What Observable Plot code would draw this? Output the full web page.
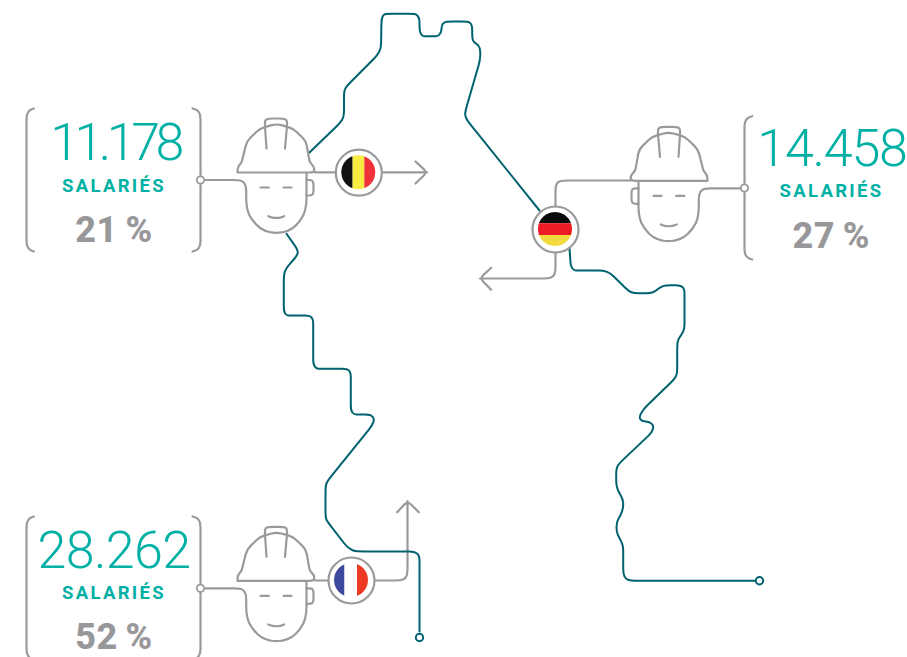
<!DOCTYPE html>
<html><head><meta charset="utf-8">
<style>
html,body{margin:0;padding:0;background:#fff;overflow:hidden}
svg{display:block}
.num1{letter-spacing:-4.5px}
.num2{letter-spacing:-1.2px}
.num3{letter-spacing:-0.6px}
.lab{letter-spacing:2.3px}
.pct{letter-spacing:0.6px;word-spacing:-2px}
</style>
<script src="https://cdn.jsdelivr.net/npm/d3@7"></script>
<script src="https://cdn.jsdelivr.net/npm/@observablehq/plot@0.6"></script>
</head><body><div id="chart"></div>
<script>
const teal="#00626f", gray="#9a9a9d", green="#00b0a5", txtGray="#98989b";

// river paths
const riverNorth=[[309,152],[340,122],[343.5,116],[343.5,90],[346.7,85],[376.7,55],[380.5,48],[381,18],[383.5,13.5],[387,13.3],[412,13.3],[416,13.8],[419,18],[419,31],[421.7,35.5],[425,35.8],[434,35.8],[438,35.5],[441,31],[441,25],[444,21.3],[448,21],[465,21],[469,21.5],[471.7,25],[471.7,38],[473.3,41.7],[478,44.5],[480,50],[479.5,60],[465,110],[464.5,115],[466.7,120],[474,129],[539,210]];
const riverEast=[[569,248],[570,262],[570.5,266],[573.5,270],[577,270],[603,270],[610,272.7],[628.3,290.7],[633.5,292.7],[650,292.7],[655,290.7],[660,286.5],[665,284.7],[680,284.7],[684,288.3],[684,328],[681.7,333.3],[677.5,339],[676.7,345],[676.7,373],[674.3,378.3],[643.3,408.3],[638.3,416.7],[641.7,421],[648.3,421],[653.3,425],[651.7,431.7],[618.3,463.3],[615.7,468.3],[615.7,485],[618.3,491.7],[622.3,498.3],[623,506.7],[620,515],[616,521.7],[616,531.7],[619.3,538.3],[622.7,545],[622.7,573],[625,578.3],[630,580.3],[756,580.3]];
const riverSouth=[[286,233.3],[297.7,250],[296.7,255],[285,268.3],[283.3,275],[283.3,311],[286,315],[290,315],[309,315],[312.7,318.5],[312.7,364],[316,368.3],[320,368.3],[346.7,368.3],[350.3,372],[350.3,410],[353.5,414],[358,414],[370,414],[374,418.3],[371.7,425],[327.3,480],[325,485],[325,516.7],[326.7,521],[346.7,546.7],[353.3,550.7],[360,551],[414,551],[419,555],[419,631]];
const riverEnds=[[759,580.3],[419,637]];

// worker drawing, in the Belgian worker's position
const helmetDome=[[237,172],[237.4,166],[241,162.5],[242,158],[246.5,140.5],[259.5,128],[276,123.3],[292.5,128],[305.5,140.5],[308.5,158],[309.5,162.5],[313.6,166],[314,172],[237,172]];
const helmetCrest=[[266,148],[264.3,123],[264.8,119.5],[268,118],[283,118],[286.2,119.5],[286.7,123],[284.5,148]];
const faceOutline=[[200,179.5],[238,179.5],[243,181],[245.7,186],[245.7,203],[248,214],[256,225],[265,231],[276,232.7],[287,231],[296,225],[303.7,214],[306,203],[306,172]];
const ear=[[306,179.5],[311,179.5],[313,181.5],[313,193],[311,195],[306,195]];
const eyeLeft=[[260,187],[268.3,187]];
const eyeRight=[[283,187],[291,187]];
const smile=[[267.7,215.7],[272,217.2],[276,217.5],[280,217.2],[283.7,215.7]];
const workerParts=[helmetDome,helmetCrest,faceOutline,ear,eyeLeft,eyeRight,smile];

// brackets
const bracketsLeft=[[33.3,108],[29,109.5],[26,114],[26,245],[29,249.5],[33.3,251]];
const bracketsRight=[[192,108],[197,109.5],[200,114],[200,245],[197,249.5],[192,251]];
const bracketGermany=[[751.7,115.7],[747,117.2],[744,122],[744,253],[747,257.5],[751.7,259]];
const bracketFr1=[[33.3,516],[29,517.5],[26,522],[26,653],[29,657.5],[33.3,659]];
const bracketFr2=[[192,516],[197,517.5],[200,522],[200,653],[197,657.5],[192,659]];

// connectors
const connectors=[
 [[314,171.8],[336,171.8]],
 [[381,171.8],[426.7,171.8]],
 [[415,161],[426.7,171.8],[415,183]],
 [[630.7,180],[562,180],[557,181.5],[555,186],[555,206]],
 [[555,252],[555,271],[553,276],[548,278],[479.5,278]],
 [[490.7,267.3],[479.3,277.7],[490.7,289.3]],
 [[314,580],[328,580]],
 [[374,580],[400,580],[405,578],[407,573],[407,500.5]],
 [[396.7,511.7],[407,500.5],[418.3,511.7]]
];
const connectorDots=[[200,179.5],[744,187.5],[200,587.8]];

// flags
const flagRings=[[358.3,172.2],[555,229],[351,580]];
const flagRadius=17;
const belgium=[["#111111",-17,-5.7],["#f8ec43",-5.7,6],["#ef3338",6,17]];
const germany=[["#0a0a0a",-17,-5.7],["#ed1c24",-5.7,6],["#f2d93c",6,17]];
const france=[["#3d4a9e",-17,-6.5],["#ffffff",-6.5,6],["#ee3a24",6,17]];

// texts
const values=["11.178","14.458","28.262"];
const shares=["21 %","27 %","52 %"];
const labelWord="SALARIÉS";
const valueX=[114.5,831.5,113.5], valueY=[159,165,567.3];
const labelX=[113.5,831,113.5], labelY=[191.7,196.7,598.3];
const shareX=[113.5,830.7,113.5], shareY=[241.7,247.7,648];

const toRows=(paths)=>paths.flatMap((p,i)=>p.map(([x,y])=>({x,y,id:i})));
const mirrorWorker=p=>p.map(([x,y])=>[944-x,y+8.3]);
const shiftWorker=p=>p.map(([x,y])=>[x,y+408.3]);
const grayRounded=[...workerParts,...workerParts.map(mirrorWorker),...workerParts.map(shiftWorker),
  bracketsLeft,bracketsRight,bracketGermany,bracketFr1,bracketFr2];

// a d3 curve: straight runs joined by small rounded corners
function roundedCorners(context){
  const R=5;let pts;
  return {
    areaStart(){},areaEnd(){},
    lineStart(){pts=[];},
    point(x,y){pts.push([+x,+y]);},
    lineEnd(){
      if(!pts.length)return;
      context.moveTo(pts[0][0],pts[0][1]);
      for(let i=1;i<pts.length-1;i++){
        const [ax,ay]=pts[i-1],[bx,by]=pts[i],[cx,cy]=pts[i+1];
        const l1=Math.hypot(bx-ax,by-ay)||1,l2=Math.hypot(cx-bx,cy-by)||1;
        const c1=Math.min(R,l1/2),c2=Math.min(R,l2/2);
        context.lineTo(bx-(bx-ax)*c1/l1,by-(by-ay)*c1/l1);
        context.quadraticCurveTo(bx,by,bx+(cx-bx)*c2/l2,by+(cy-by)*c2/l2);
      }
      const last=pts[pts.length-1];
      context.lineTo(last[0],last[1]);
    }
  };
}

const steps=(lo,hi)=>d3.range(25).map(k=>lo+(hi-lo)*k/24);
const halfChord=t=>Math.sqrt(Math.max(0,flagRadius*flagRadius-t*t));
const verticalStripes=(c,spec)=>spec.map(([color,a,b])=>Plot.areaY(
  steps(a,b).map(t=>({x:c[0]+t,y1:c[1]-halfChord(t),y2:c[1]+halfChord(t)})),
  {x:"x",y1:"y1",y2:"y2",fill:color}));
const horizontalStripes=(c,spec)=>spec.map(([color,a,b])=>Plot.areaX(
  steps(a,b).map(t=>({y:c[1]+t,x1:c[0]-halfChord(t),x2:c[0]+halfChord(t)})),
  {y:"y",x1:"x1",x2:"x2",fill:color}));

const txt=(t,x,y,size,weight,fill,cls)=>Plot.text([t],{x:()=>x,y:()=>y,text:d=>d,fontSize:size,fontWeight:weight,fill,
  fontFamily:"Roboto",lineAnchor:"bottom",textAnchor:"middle",className:cls});

const chart=Plot.plot({
  width:907,height:657,margin:0,
  style:{background:"#fff"},
  x:{domain:[0,907],axis:null},
  y:{domain:[657,0],axis:null},
  marks:[
    Plot.line(toRows(connectors),{x:"x",y:"y",z:"id",stroke:gray,strokeWidth:2.2,curve:roundedCorners}),
    Plot.line(toRows([riverNorth,riverEast,riverSouth]),{x:"x",y:"y",z:"id",stroke:teal,strokeWidth:2,curve:roundedCorners}),
    Plot.line(toRows(grayRounded),{x:"x",y:"y",z:"id",stroke:gray,strokeWidth:2.2,curve:roundedCorners}),
    Plot.dot(flagRings,{x:d=>d[0],y:d=>d[1],r:23,fill:"#fff",stroke:gray,strokeWidth:2.2}),
    ...verticalStripes(flagRings[0],belgium),
    ...horizontalStripes(flagRings[1],germany),
    ...verticalStripes(flagRings[2],france),
    Plot.dot(riverEnds,{x:d=>d[0],y:d=>d[1],r:3.7,fill:"#fff",stroke:teal,strokeWidth:2}),
    Plot.dot(connectorDots,{x:d=>d[0],y:d=>d[1],r:3.7,fill:"#fff",stroke:gray,strokeWidth:1.8}),
    ...values.flatMap((v,i)=>[
      txt(v,valueX[i],valueY[i],52,300,green,"num"+(i+1)),
      txt(labelWord,labelX[i],labelY[i],18.5,700,green,"lab"),
      txt(shares[i],shareX[i],shareY[i],36,800,txtGray,"pct")
    ])
  ]
});
document.getElementById("chart").append(chart);
</script></body></html>
